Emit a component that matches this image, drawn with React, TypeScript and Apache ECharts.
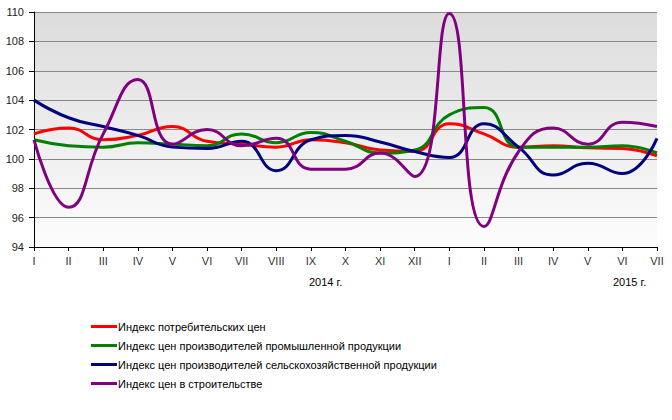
import React, { useEffect, useRef } from "react";
import * as echarts from "echarts";

const months = ["I","II","III","IV","V","VI","VII","VIII","IX","X","XI","XII","I","II","III","IV","V","VI","VII"];
const cpi = [101.7,102.1,101.3,101.6,102.2,101.2,101.0,100.8,101.3,101.1,100.6,100.5,102.4,101.7,100.8,100.9,100.75,100.7,100.2];
const ppi = [101.3,100.9,100.8,101.1,101.0,100.9,101.7,101.1,101.8,101.2,100.4,100.6,103.0,103.5,100.8,100.8,100.8,100.9,100.4];
const agri = [104.0,102.8,102.2,101.6,100.8,100.7,101.2,99.2,101.3,101.6,101.15,100.5,100.1,102.4,100.8,98.9,99.7,99.0,101.4];
const constr = [101.3,96.7,101.7,105.4,101.0,102.0,100.9,101.4,99.3,99.3,100.4,98.8,109.9,95.4,100.5,102.1,101.0,102.5,102.2];
const seriesNames = [
  "Индекс потребительских цен",
  "Индекс цен производителей промышленной продукции",
  "Индекс цен производителей сельскохозяйственной продукции",
  "Индекс цен в строительстве",
];
const yearLabels = ["2014 г.", "2015 г."];

export default function App() {
  const ref = useRef<HTMLDivElement>(null);
  useEffect(() => {
    const chart = echarts.init(ref.current!, null, { renderer: "svg" });
    const colors = ["#ff0000", "#008000", "#000080", "#800080"];
    const data = [cpi, ppi, agri, constr];
    chart.setOption({
      animation: false,
      textStyle: { fontFamily: "Liberation Sans, Arial, sans-serif" },
      grid: {
        left: 34, right: 15, top: 12, bottom: 173,
        show: true, borderWidth: 0,
        backgroundColor: {
          type: "linear", x: 0, y: 0, x2: 0, y2: 1,
          colorStops: [
            { offset: 0, color: "#dcdcdc" },
            { offset: 1, color: "#fdfdfd" },
          ],
        },
      },
      xAxis: {
        type: "category",
        data: months,
        boundaryGap: false,
        axisLine: { lineStyle: { color: "#000", width: 1 } },
        axisTick: { show: true, length: 4, lineStyle: { color: "#000" }, interval: 0 },
        axisLabel: { color: "#333", fontSize: 11, margin: 8, interval: 0 },
        splitLine: { show: false },
      },
      yAxis: {
        type: "value",
        min: 94, max: 110, interval: 2,
        axisLine: { show: true, lineStyle: { color: "#000", width: 1 } },
        axisTick: { show: true, length: 5, lineStyle: { color: "#000" } },
        axisLabel: { color: "#222", fontSize: 11, margin: 10 },
        splitLine: { show: true, lineStyle: { color: "#888", width: 1 } },
      },
      legend: {
        orient: "vertical",
        left: 86, top: 316,
        itemWidth: 26, itemHeight: 3, itemGap: 8,
        icon: "rect",
        textStyle: { fontSize: 11, color: "#000", padding: [0, 0, 0, -4] },
        data: seriesNames,
      },
      graphic: [
        { type: "text", left: 309, top: 276, style: { text: yearLabels[0], fontSize: 11, fill: "#000", fontFamily: "Liberation Sans, Arial, sans-serif" } },
        { type: "text", left: 613, top: 276, style: { text: yearLabels[1], fontSize: 11, fill: "#000", fontFamily: "Liberation Sans, Arial, sans-serif" } },
      ],
      series: seriesNames.map((name, i) => ({
        name,
        type: "line",
        data: data[i],
        smooth: 0.5,
        showSymbol: false,
        symbol: "none",
        lineStyle: { color: colors[i], width: 3 },
        itemStyle: { color: colors[i] },
        z: 2 + i,
      })),
    });
    return () => chart.dispose();
  }, []);
  return <div ref={ref} style={{ width: 672, height: 420, position: "absolute", left: 0, top: 0 }} />;
}
